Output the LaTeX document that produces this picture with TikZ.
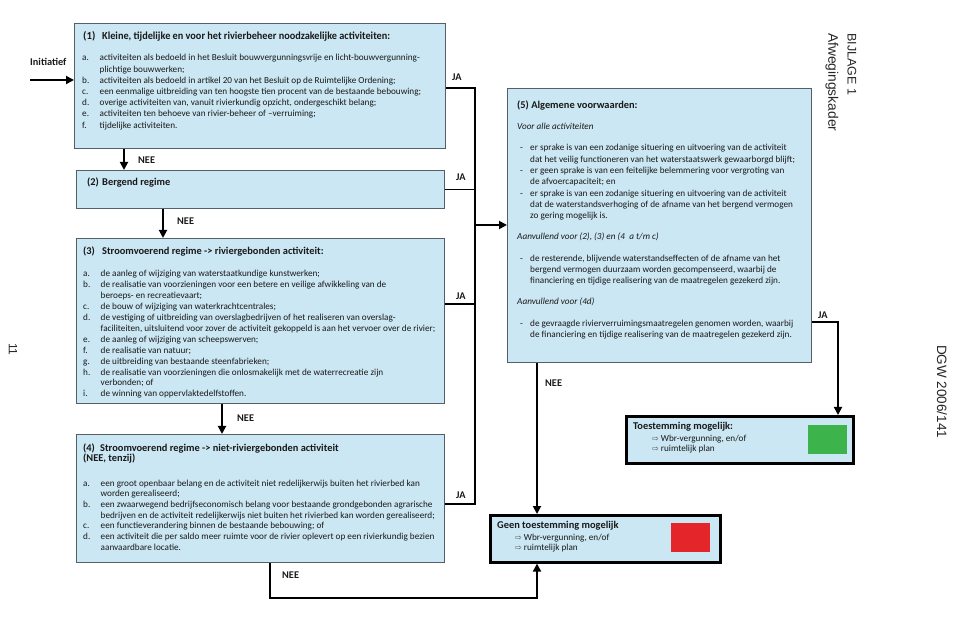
\documentclass[tikz,border=0pt]{standalone}
\usepackage{fontspec}
\usepackage{graphicx}
\setmainfont{Carlito}
\newfontfamily\arialf{Liberation Sans}
\newfontfamily\dejavuf{DejaVu Sans}
\usetikzlibrary{arrows.meta}
\definecolor{boxblue}{RGB}{203,231,243}
\definecolor{boxedge}{RGB}{85,95,105}
\definecolor{okgreen}{RGB}{60,180,75}
\definecolor{nored}{RGB}{228,38,42}
\definecolor{txt}{RGB}{25,25,25}
\newcommand\itm[2]{\hbox{\makebox[17.5pt][l]{#1}#2}}
\newcommand\cnt[1]{\hbox{\hspace*{17.5pt}#1}}
\newcommand\dsh[1]{\hbox{\makebox[13pt][l]{\hspace*{3pt}-}#1}}
\newcommand\dcn[1]{\hbox{\hspace*{13pt}#1}}
\newcommand\blk[2]{\vtop{\baselineskip=#1pt\lineskiplimit=-20pt\lineskip=0pt #2}}
\newcommand\wa{{\dejavuf\fontsize{8}{8}\selectfont\color{black!70}⇨}}
\tikzset{
  regbox/.style={draw=boxedge, fill=boxblue, line width=1pt, inner sep=0, anchor=north west},
  endbox/.style={draw=black, fill=boxblue, line width=2.6pt, inner sep=0, anchor=north west},
  conn/.style={line width=1.8pt, draw=black},
  arr/.style={conn, -{Triangle[length=8pt,width=8pt]}},
  lbl/.style={font=\fontsize{10.3}{11}\selectfont\bfseries, anchor=base west, inner sep=0, text=txt},
  tx/.style={anchor=base west, inner sep=0, text=txt, font=\fontsize{9.2}{11}\selectfont},
  ttl/.style={anchor=base west, inner sep=0, text=txt, font=\fontsize{10.4}{11}\selectfont\bfseries},
  bigttl/.style={anchor=base west, inner sep=0, text=txt, font=\fontsize{10.4}{11}\selectfont\bfseries},
  sub/.style={anchor=base west, inner sep=0, text=txt, font=\fontsize{9.2}{10}\selectfont},
  side/.style={rotate=-90, anchor=west, inner sep=0, text=black!85, font=\arialf\fontsize{12.5}{13}\selectfont},
}
\begin{document}
\begin{tikzpicture}[x=1pt,y=-1pt]
\useasboundingbox (0,0) rectangle (980,617);
% boxes
\node[regbox, minimum width=371, minimum height=125] (b1) at (74,23) {};
\node[regbox, minimum width=368, minimum height=38] (b2) at (76,170) {};
\node[regbox, minimum width=368, minimum height=165] (b3) at (76,238) {};
\node[regbox, minimum width=368, minimum height=128] (b4) at (76,434) {};
\node[regbox, minimum width=304, minimum height=274] (b5) at (507,88) {};
\node[endbox, minimum width=227, minimum height=47] (ok) at (625,415) {};
\node[endbox, minimum width=230, minimum height=47] (no) at (489,514) {};
\node[fill=okgreen, minimum width=39, minimum height=29, inner sep=0, anchor=north west] (gsq) at (808,425) {};
\node[fill=nored, minimum width=39, minimum height=29, inner sep=0, anchor=north west] (rsq) at (671,523) {};
% box 1 text
\node[ttl, font=\fontsize{10.8}{12}\selectfont\bfseries] (t1) at (83,40) {\makebox[19pt][l]{(1)}\resizebox{288pt}{\height}{Kleine, tijdelijke en voor het rivierbeheer noodzakelijke activiteiten:}};
\node[tx] (i1) at (82,61) {\blk{11.17}{%
\itm{a.}{activiteiten als bedoeld in het Besluit bouwvergunningsvrije en licht-bouwvergunning-}
\cnt{plichtige bouwwerken;}
\itm{b.}{activiteiten als bedoeld in artikel 20 van het Besluit op de Ruimtelijke Ordening;}
\itm{c.}{een eenmalige uitbreiding van ten hoogste tien procent van de bestaande bebouwing;}
\itm{d.}{overige activiteiten van, vanuit rivierkundig opzicht, ondergeschikt belang;}
\itm{e.}{activiteiten ten behoeve van rivier-beheer of –verruiming;}
\itm{f.}{tijdelijke activiteiten.}}};
% box 2 text
\node[ttl] (t2) at (87,186) {\makebox[15pt][l]{(2)}Bergend regime};
% box 3 text
\node[ttl] (t3) at (83,255) {\makebox[19pt][l]{(3)}Stroomvoerend regime -> riviergebonden activiteit:};
\node[tx] (i3) at (83,277) {\blk{10.9}{%
\itm{a.}{de aanleg of wijziging van waterstaatkundige kunstwerken;}
\itm{b.}{de realisatie van voorzieningen voor een betere en veilige afwikkeling van de}
\cnt{beroeps- en recreatievaart;}
\itm{c.}{de bouw of wijziging van waterkrachtcentrales;}
\itm{d.}{de vestiging of uitbreiding van overslagbedrijven of het realiseren van overslag-}
\cnt{faciliteiten, uitsluitend voor zover de activiteit gekoppeld is aan het vervoer over de rivier;}
\itm{e.}{de aanleg of wijziging van scheepswerven;}
\itm{f.}{de realisatie van natuur;}
\itm{g.}{de uitbreiding van bestaande steenfabrieken;}
\itm{h.}{de realisatie van voorzieningen die onlosmakelijk met de waterrecreatie zijn}
\cnt{verbonden; of}
\itm{i.}{de winning van oppervlaktedelfstoffen.}}};
% box 4 text
\node[ttl] (t4) at (83,451) {\blk{10.5}{%
\hbox{\makebox[17pt][l]{(4)}Stroomvoerend regime -> niet-riviergebonden activiteit}
\hbox{(NEE, tenzij)}}};
\node[tx] (i4) at (83,486) {\blk{10.67}{%
\itm{a.}{een groot openbaar belang en de activiteit niet redelijkerwijs buiten het rivierbed kan}
\cnt{worden gerealiseerd;}
\itm{b.}{een zwaarwegend bedrijfseconomisch belang voor bestaande grondgebonden agrarische}
\cnt{bedrijven en de activiteit redelijkerwijs niet buiten het rivierbed kan worden gerealiseerd;}
\itm{c.}{een functieverandering binnen de bestaande bebouwing; of}
\itm{d.}{een activiteit die per saldo meer ruimte voor de rivier oplevert op een rivierkundig bezien}
\cnt{aanvaardbare locatie.}}};
% box 5 text
\node[bigttl] (t5) at (517,109) {(5) Algemene voorwaarden:};
\node[tx] (v5) at (517,130) {\itshape Voor alle activiteiten};
\node[tx] (i5a) at (517,151) {\blk{11.33}{%
\dsh{er sprake is van een zodanige situering en uitvoering van de activiteit}
\dcn{dat het veilig functioneren van het waterstaatswerk gewaarborgd blijft;}
\dsh{er geen sprake is van een feitelijke belemmering voor vergroting van}
\dcn{de afvoercapaciteit; en}
\dsh{er sprake is van een zodanige situering en uitvoering van de activiteit}
\dcn{dat de waterstandsverhoging of de afname van het bergend vermogen}
\dcn{zo gering mogelijk is.}}};
\node[tx] (a5) at (517,240) {\itshape Aanvullend voor (2), (3) en (4~~a t/m c)};
\node[tx] (i5b) at (517,262) {\blk{11}{%
\dsh{de resterende, blijvende waterstandseffecten of de afname van het}
\dcn{bergend vermogen duurzaam worden gecompenseerd, waarbij de}
\dcn{financiering en tijdige realisering van de maatregelen gezekerd zijn.}}};
\node[tx] (a5d) at (517,305) {\itshape Aanvullend voor (4d)};
\node[tx] (i5c) at (517,327) {\blk{11}{%
\dsh{de gevraagde rivierverruimingsmaatregelen genomen worden, waarbij}
\dcn{de financiering en tijdige realisering van de maatregelen gezekerd zijn.}}};
% end boxes text
\node[bigttl] (tok) at (633,430) {Toestemming mogelijk:};
\node[sub] (sok) at (652,442) {\blk{9.5}{%
\hbox{\wa\hspace{2pt}Wbr-vergunning, en/of}
\hbox{\wa\hspace{2pt}ruimtelijk plan}}};
\node[bigttl] (tno) at (497,528) {Geen toestemming mogelijk};
\node[sub] (sno) at (515,540) {\blk{10}{%
\hbox{\wa\hspace{2pt}Wbr-vergunning, en/of}
\hbox{\wa\hspace{2pt}ruimtelijk plan}}};
% connectors
\coordinate (ini) at (30,80);
\node[lbl] (linit) at (30,66) {Initiatief};
\draw[arr] (ini) -- (ini -| b1.west);
\draw[arr] (b1.south -| 124,0) -- (b2.north -| 124,0);
\draw[arr] (b2.south -| 163,0) -- (b3.north -| 163,0);
\draw[arr] (b3.south -| 222,0) -- (b4.north -| 222,0);
\coordinate (busT) at (475,88);
\coordinate (busB) at (475,504);
\draw[conn] (b1.east |- busT) -- (busT) -- (busB) -- (b4.east |- busB);
\draw[conn] (b2.east) -- (b2.east -| busT);
\draw[conn] (b3.east |- 0,304) -- (475,304);
\draw[arr] (475,225) -- (b5.west |- 0,225);
\draw[arr] (b5.south -| 537,0) -- (no.north -| 537,0);
\coordinate (jaR) at (838,322);
\draw[arr] (b5.east |- jaR) -- (jaR) -- (ok.north -| jaR);
\coordinate (botL) at (270,598);
\coordinate (botR) at (537,598);
\draw[arr] (b4.south -| botL) -- (botL) -- (botR) -- (no.south -| botR);
% labels
\node[lbl] (ja1) at (452,81) {JA};
\node[lbl] (ja2) at (456,181) {JA};
\node[lbl] (ja3) at (456,300) {JA};
\node[lbl] (ja4) at (456,498) {JA};
\node[lbl] (ja5) at (818,319) {JA};
\node[lbl] (n1) at (138,164) {NEE};
\node[lbl] (n2) at (177,225) {NEE};
\node[lbl] (n3) at (237,421) {NEE};
\node[lbl] (n5) at (545,387) {NEE};
\node[lbl] (n4) at (282,578) {NEE};
% side texts
\node[side] (s1) at (852,33) {BIJLAGE 1};
\node[side, font=\arialf\fontsize{13.8}{14}\selectfont] (s2) at (832,33) {Afwegingskader};
\node[side, font=\arialf\fontsize{13.5}{14}\selectfont] (s3) at (942,345) {DGW 2006/141};
\node[side, font=\arialf\fontsize{12}{13}\selectfont] (s4) at (13,343) {11};
\end{tikzpicture}
\end{document}
